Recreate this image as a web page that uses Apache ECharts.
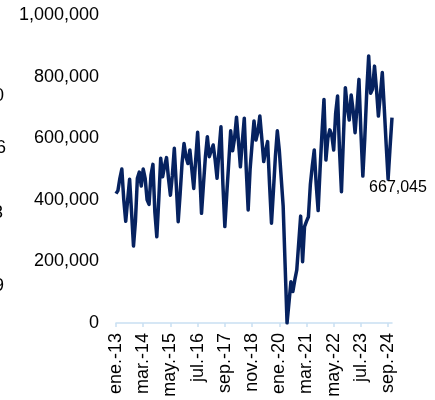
<!DOCTYPE html>
<html>
<head>
<meta charset="utf-8">
<script src="https://cdn.jsdelivr.net/npm/echarts@6/dist/echarts.min.js"></script>
<style>
html,body{margin:0;padding:0;background:#fff;}
#c{width:435px;height:400px;}
</style>
</head>
<body>
<div id="c"></div>
<script>
// Monthly categories: ene-2013 .. nov-2024
const monthNames = ['ene.','feb.','mar.','abr.','may.','jun.','jul.','ago.','sep.','oct.','nov.','dic.'];
const categories = [];
for (let y = 13; y <= 24; y++) {
  for (let m = 0; m < 12; m++) {
    if (y === 24 && m > 10) break;
    categories.push(monthNames[m] + '-' + y);
  }
}

const values = [
  420000, 430000, 470000, 500000, 400000, 330000, 400000, 467000, 360000, 250000, 330000, 470000,
  490000, 445000, 500000, 470000, 400000, 385000, 480000, 515000, 360000, 280000, 400000, 535000,
  475000, 510000, 537000, 470000, 415000, 480000, 567000, 450000, 329000, 420000, 520000, 583000,
  540000, 518000, 562000, 500000, 437000, 530000, 619000, 500000, 356000, 450000, 540000, 605000,
  540000, 560000, 578000, 530000, 470000, 560000, 637000, 450000, 313000, 420000, 520000, 624000,
  559000, 600000, 668000, 590000, 507000, 590000, 665000, 500000, 367000, 500000, 580000, 656000,
  594000, 620000, 672000, 600000, 524000, 560000, 589000, 450000, 324000, 430000, 540000, 624000,
  562000, 564000, 380000, 190000, 0, 0, 134000, 102000, 140000, 172000, 172000, 347000,
  199000, 313000, 330000, 345000, 450000, 510000, 562000, 450000, 365000, 500000, 620000, 726000,
  529000, 600000, 627000, 610000, 562000, 680000, 737000, 560000, 426000, 600000, 764000, 700000,
  659000, 740000, 690000, 618000, 700000, 791000, 620000, 477000, 600000, 750000, 867000, 746000,
  760000, 834000, 760000, 672000, 740000, 813000, 700000, 580000, 467000, 570000, 667045
];

const yTicks = [0, 200000, 400000, 600000, 800000, 1000000];
const leftFragments = ['0', '6', '3', '9'];

const fmt = v => String(v).replace(/\B(?=(\d{3})+(?!\d))/g, ',');
const FONT = '"Liberation Sans", Arial, sans-serif';
const lastIdx = values.length - 1;

const chart = echarts.init(document.getElementById('c'), null, {renderer: 'canvas'});
chart.setOption({
  animation: false,
  backgroundColor: '#ffffff',
  grid: {left: 116, right: 43, top: 15, bottom: 77, containLabel: false},
  xAxis: {
    type: 'category',
    data: categories,
    boundaryGap: false,
    axisLine: {lineStyle: {color: '#c9dff2', width: 1.5}},
    axisTick: {show: true, interval: 13, length: 4, lineStyle: {color: '#c9dff2', width: 1.5}},
    axisLabel: {interval: 13, rotate: 90, fontSize: 18, color: '#000', fontFamily: FONT, margin: 10}
  },
  yAxis: {
    type: 'value',
    min: yTicks[0],
    max: yTicks[yTicks.length - 1],
    interval: 200000,
    splitLine: {show: false},
    axisLine: {show: false},
    axisTick: {show: false},
    axisLabel: {fontSize: 18, color: '#000', fontFamily: FONT, margin: 17, formatter: v => fmt(v)}
  },
  series: [{
    type: 'line',
    data: values,
    showSymbol: false,
    lineStyle: {color: '#062260', width: 3.5, join: 'round'},
    markPoint: {
      symbol: 'circle',
      symbolSize: 0,
      data: [{coord: [lastIdx, values[lastIdx]], value: values[lastIdx]}],
      label: {
        show: true, position: 'bottom', offset: [6, 57],
        fontSize: 16, color: '#000', fontFamily: FONT,
        formatter: p => fmt(p.value)
      }
    }
  }],
  graphic: [
    {type: 'text', left: -6, top: 87, style: {text: leftFragments[0], fontSize: 18, fill: '#000', fontFamily: FONT}},
    {type: 'text', left: -4, top: 139, style: {text: leftFragments[1], fontSize: 18, fill: '#000', fontFamily: FONT}},
    {type: 'text', left: -7, top: 204, style: {text: leftFragments[2], fontSize: 18, fill: '#000', fontFamily: FONT}},
    {type: 'text', left: -6, top: 277, style: {text: leftFragments[3], fontSize: 18, fill: '#000', fontFamily: FONT}}
  ]
});
</script>
</body>
</html>
